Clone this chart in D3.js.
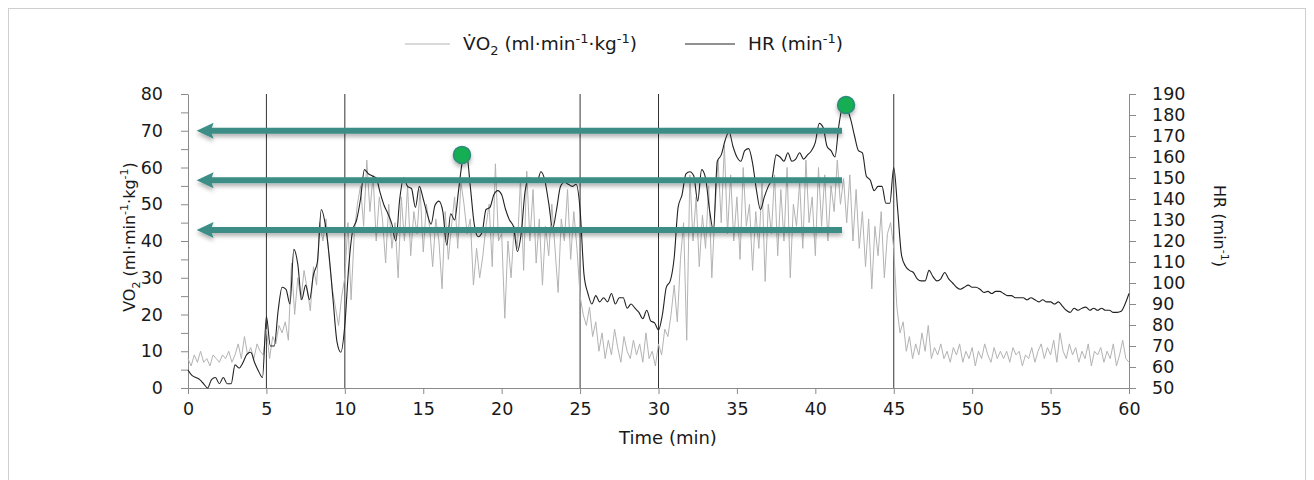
<!DOCTYPE html>
<html>
<head>
<meta charset="utf-8">
<script src="https://cdn.jsdelivr.net/npm/d3@7"></script>
<style>
  html, body { margin: 0; padding: 0; background: #fff; }
  svg { display: block; font-family: "DejaVu Sans", sans-serif; }
</style>
</head>
<body>
<svg id="chart" width="1314" height="480"></svg>
<script>
// ---------------- DATA ----------------
const hrStep = 0.25;   // minutes between HR samples
const hrValues = [
  // 0-5
  58.6, 56, 55, 54, 52, 50, 54, 55, 52, 55, 52, 52, 61, 59.5, 62, 66, 67, 62, 58, 55,
  // 5-10
  84, 70, 70, 87, 98, 97, 90, 116, 109, 92, 99, 92, 104, 110, 135, 128, 113, 92, 72, 67,
  // 10-15
  80, 108, 125, 130, 140, 154, 152, 151, 150, 143, 137, 133, 128, 120, 140, 150, 146, 145, 136, 146,
  // 15-20
  140, 133, 128, 137, 139, 134, 118, 133, 130, 144, 158, 162, 146, 128, 122, 124, 135, 136, 142, 144,
  // 20-25
  142, 135, 130, 127, 115, 124, 144, 150, 149, 148, 153, 149, 138, 126, 135, 146, 148, 147, 146, 147,
  // 25-30
  135, 104, 95, 90, 94, 91, 93, 91, 95, 90, 93, 93, 88, 90, 88, 86, 83, 87, 82, 81,
  // 30-35
  77.6, 85, 98, 101, 112, 136, 142, 152, 153, 151, 139, 154, 150, 135, 125, 158, 161, 168, 172, 165,
  // 35-40
  160, 158, 163, 164, 157, 144, 135, 141, 146, 150, 161, 160, 158, 162, 158, 159, 162, 159, 161, 163,
  // 40-45
  167, 176, 174, 165, 163, 160, 175, 184, 183, 178, 170, 163, 162, 151, 149, 144, 146, 146, 138, 138,
  // 45-50
  155, 135, 113, 108, 106, 105, 102, 101, 101, 106, 103, 101, 102, 105, 102, 100, 98, 97, 98, 99,
  // 50-55
  98, 98, 97, 95.5, 96, 95, 96, 96, 95, 94, 94, 93, 93, 93, 92, 93, 92, 91, 92, 91,
  // 55-60
  91, 90, 91, 89, 87, 86, 88, 87, 88, 88.5, 87, 88, 87, 88, 87, 87, 86, 86, 86.5, 90,
  95
];

const vo2Step = 0.2;   // minutes between VO2 samples
const vo2Values = [
  8, 6, 9, 7, 10,   7, 8, 6, 9, 8,   7, 9, 8, 10, 7,   9, 12, 8, 14, 9,   11, 8, 12, 10, 9,
  16, 8, 14, 12, 17,   15, 18, 13, 34, 20,   30, 24, 32, 27, 21,   33, 28, 45, 40, 46,   35, 27, 22, 17, 25,
  30, 45, 24, 42, 50,   55, 44, 62, 48, 58,   40, 52, 46, 34, 50,   38, 45, 30, 52, 40,   55, 36, 48, 42, 54,
  37, 50, 44, 33, 46,   40, 27, 48, 35, 44,   52, 38, 56, 50, 42,   46, 28, 38, 30, 36,   44, 50, 33, 61, 40,
  42, 19, 40, 30, 44,   38, 57, 32, 59, 40,   54, 34, 46, 28, 44,   36, 50, 38, 26, 46,   40, 54, 35, 48, 38,
  25, 20, 17, 22, 14,   18, 10, 15, 8, 13,   9, 16, 11, 7, 14,   10, 8, 13, 9, 12,   7, 15, 8, 10, 6,
  12, 9, 16, 14, 20,   28, 18, 35, 45, 13,   58, 40, 52, 33, 47,   38, 55, 30, 48, 62,   45, 66, 42, 58, 40,
  52, 35, 60, 44, 50,   32, 48, 38, 56, 29,   50, 42, 58, 36, 54,   40, 60, 30, 50, 44,   56, 38, 62, 45, 52,
  36, 60, 44, 58, 40,   55, 48, 62, 50, 57,   45, 58, 40, 54, 38,   48, 33, 46, 27, 44,   36, 48, 30, 42, 45,
  38, 22, 15, 18, 10,   14, 8, 12, 9, 15,   10, 17, 8, 11, 9,   12, 8, 10, 7, 11,   9, 12, 7, 10, 8,
  11, 6, 10, 8, 12,   9, 7, 11, 8, 10,   8, 10, 7, 11, 9,   10, 6, 9, 8, 11,   7, 10, 12, 8, 11,
  9, 13, 7, 15, 10,   8, 12, 9, 11, 7,   10, 8, 12, 6, 10,   9, 11, 7, 10, 8,   12, 6, 9, 13, 8,
  7
];

const phaseBoundaries = [5, 10, 25, 30, 45];          // minutes
const arrowLevels = [70, 56.5, 43];                   // VO2 units
const arrowFrom = 41.7, arrowTo = 0.55;                // minutes
const peakTimes = [17.47, 41.96];                     // minutes
const peakHR = [161, 184.8];                          // min-1

const xTicks = [0, 5, 10, 15, 20, 25, 30, 35, 40, 45, 50, 55, 60];
const leftTicks = [0, 5, 10, 15, 20, 25, 30, 35, 40, 45, 50, 55, 60, 65, 70, 75, 80];
const rightTicks = [50, 60, 70, 80, 90, 100, 110, 120, 130, 140, 150, 160, 170, 180, 190];

// ---------------- CHART ----------------
const svg = d3.select("#chart");
const pLeft = 188, pRight = 1129, pTop = 94, pBottom = 388;

const x = d3.scaleLinear().domain([0, 60]).range([pLeft, pRight]);
const yL = d3.scaleLinear().domain([0, 80]).range([pBottom, pTop]);
const yR = d3.scaleLinear().domain([50, 190]).range([pBottom, pTop]);

// outer frame
svg.append("rect").attr("x", 8.5).attr("y", 8.5).attr("width", 1297).attr("height", 480)
  .attr("fill", "none").attr("stroke", "#cfcfcf").attr("stroke-width", 1);

const defs = svg.append("defs");
const f = defs.append("filter").attr("id", "shadow").attr("x", "-5%").attr("y", "-100%").attr("width", "110%").attr("height", "300%");
f.append("feDropShadow").attr("dx", 0).attr("dy", 3).attr("stdDeviation", 2)
  .attr("flood-color", "#000").attr("flood-opacity", 0.3);

const axisColor = "#8a8a8a";
const textColor = "#1a1a1a";
const tickFont = 17.5;

function styleAxis(g) {
  g.select(".domain").attr("stroke", axisColor);
  g.selectAll(".tick line").attr("stroke", axisColor);
  g.selectAll(".tick text").attr("font-size", tickFont).attr("fill", textColor)
    .attr("font-family", "'DejaVu Sans', sans-serif");
}

// bottom axis
const gx = svg.append("g").attr("transform", `translate(0,${pBottom})`)
  .call(d3.axisBottom(x).tickValues(xTicks).tickSize(6).tickSizeOuter(0).tickPadding(9));
styleAxis(gx);

// left axis
const gl = svg.append("g").attr("transform", `translate(${pLeft},0)`)
  .call(d3.axisLeft(yL).tickValues(leftTicks).tickFormat(d => d % 10 === 0 ? d : "")
    .tickSize(7).tickSizeOuter(0).tickPadding(18));
styleAxis(gl);

// right axis
const gr = svg.append("g").attr("transform", `translate(${pRight},0)`)
  .call(d3.axisRight(yR).tickValues(rightTicks).tickSize(7).tickSizeOuter(0).tickPadding(16));
styleAxis(gr);

// phase boundaries
svg.append("g").selectAll("line").data(phaseBoundaries).join("line")
  .attr("x1", d => x(d)).attr("x2", d => x(d))
  .attr("y1", pTop).attr("y2", pBottom)
  .attr("stroke", "#333").attr("stroke-width", 1);

// VO2 line
const vo2Line = d3.line().x((d, i) => x(i * vo2Step)).y(d => yL(d));
svg.append("path").datum(vo2Values).attr("d", vo2Line)
  .attr("fill", "none").attr("stroke", "#b3b3b3").attr("stroke-width", 1);

// HR line
const hrLine = d3.line().curve(d3.curveMonotoneX).x((d, i) => x(i * hrStep)).y(d => yR(d));
svg.append("path").datum(hrValues).attr("d", hrLine)
  .attr("fill", "none").attr("stroke", "#222").attr("stroke-width", 1.1);

// arrows
const arrowColor = "#3b8d85";
const ga = svg.append("g").attr("filter", "url(#shadow)");
arrowLevels.forEach(v => {
  const yy = yL(v), x0 = x(arrowFrom), x1 = x(arrowTo);
  ga.append("line").attr("x1", x0).attr("x2", x1 + 12).attr("y1", yy).attr("y2", yy)
    .attr("stroke", arrowColor).attr("stroke-width", 6);
  ga.append("path")
    .attr("d", `M${x1},${yy} L${x1 + 17},${yy - 8} L${x1 + 14},${yy} L${x1 + 17},${yy + 8} Z`)
    .attr("fill", arrowColor);
});

// peak markers
svg.append("g").attr("filter", "url(#shadow)").selectAll("circle")
  .data(peakTimes.map((t, i) => [t, peakHR[i]])).join("circle")
  .attr("cx", d => x(d[0])).attr("cy", d => yR(d[1])).attr("r", 8.5)
  .attr("fill", "#16ae52").attr("stroke", "#2f8a7c").attr("stroke-width", 1.5);

// superscript/subscript helper
function richLabel(sel, parts, base, small) {
  parts.forEach(p => {
    const t = sel.append("tspan").text(p.t);
    if (p.sub) t.attr("font-size", small).attr("dy", 5);
    else if (p.sup) t.attr("font-size", small).attr("dy", -7);
    if (p.back) t.attr("dy", p.back);
  });
}

// axis titles
svg.append("text").attr("x", 668).attr("y", 444).attr("text-anchor", "middle")
  .attr("font-size", 18).attr("fill", textColor).text("Time (min)");

const lt = svg.append("text").attr("transform", "translate(135,237) rotate(-90)")
  .attr("text-anchor", "middle").attr("font-size", 16).attr("fill", textColor);
richLabel(lt, [
  {t: "VO"}, {t: "2", sub: true}, {t: " (ml·min", back: -5}, {t: "-1", sup: true},
  {t: "·kg", back: 7}, {t: "-1", sup: true}, {t: ")", back: 7}
], 16, 11);

const rt = svg.append("text").attr("transform", "translate(1214,226) rotate(90)")
  .attr("text-anchor", "middle").attr("font-size", 16).attr("fill", textColor);
richLabel(rt, [{t: "HR (min"}, {t: "-1", sup: true}, {t: ")", back: 7}], 16, 11);

// legend
const lg = svg.append("g");
lg.append("line").attr("x1", 405).attr("x2", 450).attr("y1", 44).attr("y2", 44)
  .attr("stroke", "#b3b3b3").attr("stroke-width", 1);
const l1 = lg.append("text").attr("x", 463).attr("y", 50).attr("font-size", 18.5).attr("fill", textColor);
richLabel(l1, [
  {t: "V\u0307O"}, {t: "2", sub: true}, {t: " (ml·min", back: -5}, {t: "-1", sup: true},
  {t: "·kg", back: 7}, {t: "-1", sup: true}, {t: ")", back: 7}
], 18.5, 13);

lg.append("line").attr("x1", 685).attr("x2", 735).attr("y1", 44).attr("y2", 44)
  .attr("stroke", "#222").attr("stroke-width", 1);
const l2 = lg.append("text").attr("x", 748).attr("y", 50).attr("font-size", 18.5).attr("fill", textColor);
richLabel(l2, [{t: "HR (min"}, {t: "-1", sup: true}, {t: ")", back: 7}], 18.5, 13);
</script>
</body>
</html>
